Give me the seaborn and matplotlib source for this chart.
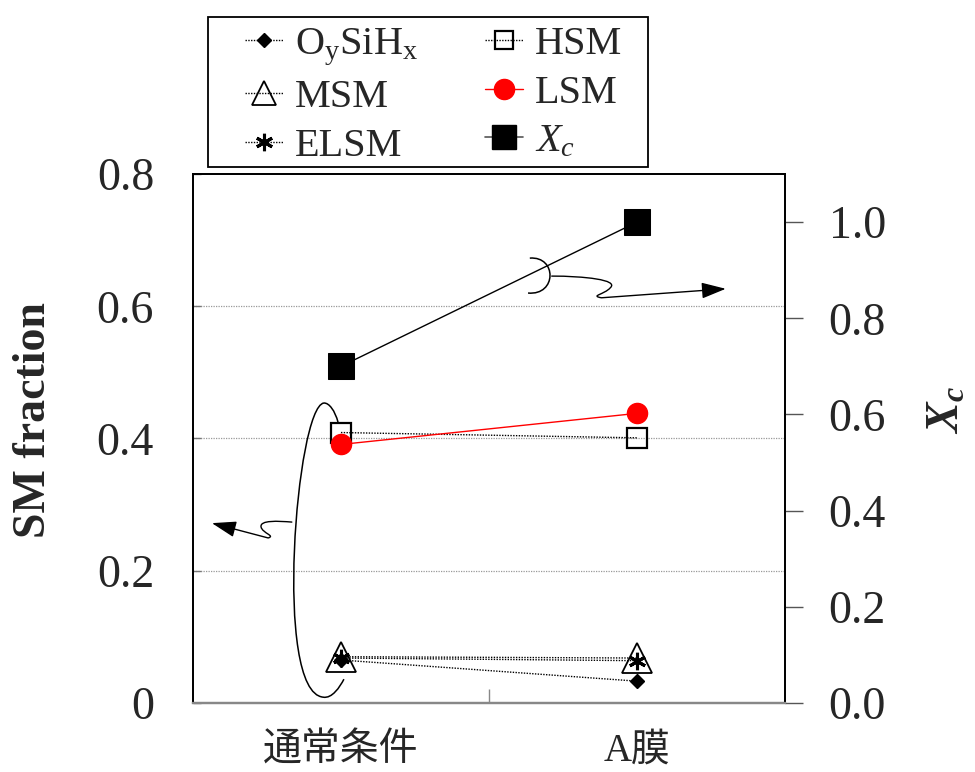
import numpy as np
import pandas as pd
import matplotlib
matplotlib.use("Agg")
import matplotlib.pyplot as plt
from matplotlib.path import Path
from matplotlib.patches import PathPatch, FancyArrowPatch, Rectangle
from matplotlib.lines import Line2D
import seaborn as sns

# ---- data ----
categories = ["通常条件", "A膜"]
oysihx = [0.065, 0.033]
hsm = [0.409, 0.401]
msm = [0.070, 0.068]
lsm = [0.391, 0.438]
elsm = [0.068, 0.064]
xc = [0.70, 1.00]

left_ticks = [0, 0.2, 0.4, 0.6, 0.8]
left_ticklabels = ["0", "0.2", "0.4", "0.6", "0.8"]
right_ticks = [0.0, 0.2, 0.4, 0.6, 0.8, 1.0]
right_ticklabels = ["0.0", "0.2", "0.4", "0.6", "0.8", "1.0"]

sns.set_style("white")
plt.rcParams["font.family"] = ["Liberation Serif", "Noto Sans CJK JP", "DejaVu Sans"]
plt.rcParams["mathtext.fontset"] = "custom"
plt.rcParams["mathtext.rm"] = "Liberation Serif"
plt.rcParams["mathtext.it"] = "Liberation Serif:italic"
plt.rcParams["mathtext.bf"] = "Liberation Serif:bold"
try:
    plt.rcParams["mathtext.bfit"] = "Liberation Serif:italic:bold"
except KeyError:
    pass

fig = plt.figure(figsize=(9.75, 7.72), dpi=100)
ax = fig.add_axes([0.1979, 0.0894, 0.6072, 0.6852])
ax2 = ax.twinx()

x = np.arange(len(categories))
dotted = (0, (1, 1))

lbl_o = "O$_{\\rm y}$SiH$_{\\rm x}$"
lbl_xc = "$X_c$"

series = [
    dict(y=oysihx, label=lbl_o, marker="D", ms=7.6, leg_ms=7.6, mfc="black",
         mec="black", color="black", ls=dotted, mew=1.0),
    dict(y=msm, label="MSM", marker="^", ms=21, leg_ms=17, mfc="none", mec="black",
         color="black", ls=dotted, mew=1.3),
    dict(y=elsm, label="ELSM", marker=(6, 2, 0), ms=12.5, leg_ms=12.5, mfc="black",
         mec="black", color="black", ls=dotted, mew=2.2),
    dict(y=hsm, label="HSM", marker="s", ms=14, leg_ms=13.5, mfc="none", mec="black",
         color="black", ls=dotted, mew=1.6),
    dict(y=lsm, label="LSM", marker="o", ms=14.5, leg_ms=14.5, mfc="red", mec="red",
         color="red", ls="-", mew=1.0),
]

handles = {}
for s in series:
    sns.lineplot(x=x, y=s["y"], ax=ax, color=s["color"], linestyle=s["ls"],
                 linewidth=1.0, marker=s["marker"], markersize=s["ms"],
                 markerfacecolor=s["mfc"], markeredgecolor=s["mec"],
                 markeredgewidth=s["mew"], legend=False)
    handles[s["label"]] = Line2D([], [], color=s["color"], linestyle=s["ls"],
                                 linewidth=1.0, marker=s["marker"],
                                 markersize=s["leg_ms"], markerfacecolor=s["mfc"],
                                 markeredgecolor=s["mec"], markeredgewidth=s["mew"])

sns.lineplot(x=x, y=xc, ax=ax2, color="black", linestyle="-", linewidth=1.0,
             marker="s", markersize=19, markerfacecolor="black",
             markeredgecolor="black", legend=False)
handles[lbl_xc] = Line2D([], [], color="#555555", linestyle="-", linewidth=1.2,
                         marker="s", markersize=17, markerfacecolor="black",
                         markeredgecolor="black")

# ---- left axis ----
ax.set_xlim(-0.5, 1.5)
ax.set_ylim(0, 0.8)
ax.set_yticks(left_ticks)
ax.set_yticklabels(left_ticklabels, fontsize=33)
ax.tick_params(axis="y", direction="in", length=6, width=1, color="#777777", pad=28, left=True)
ax.set_ylabel("SM fraction", fontsize=33, fontweight="bold")
ax.yaxis.set_label_coords(-0.233, 0.535)
for yv in left_ticks[1:-1]:
    ax.axhline(yv, color="#999999", lw=0.9, ls=(0, (1, 1)), zorder=0)

ax.set_xticks(x)
ax.set_xticklabels(categories, fontsize=28)
ax.tick_params(axis="x", length=0, pad=21)
ax.set_xticks([0.5], minor=True)
ax.tick_params(axis="x", which="minor", direction="in", length=10, width=1,
               color="#888888", bottom=True)

# ---- right axis ----
ax2.set_ylim(0, 1.1)
ax2.set_yticks(right_ticks)
ax2.set_yticklabels(right_ticklabels, fontsize=33)
ax2.tick_params(axis="y", direction="out", length=13, width=1, color="#555555", pad=18.5, right=True)
ax2.set_ylabel("$\\mathbfit{X}_{\\mathbfit{c}}$", fontsize=33, rotation=90)
ax2.yaxis.set_label_coords(1.238, 0.554)

for a in (ax, ax2):
    for side in ("left", "top", "right"):
        a.spines[side].set_color("black")
        a.spines[side].set_linewidth(1.3)
    a.spines["bottom"].set_color("#888888")
    a.spines["bottom"].set_linewidth(1.6)

# ---- annotation curves (axes fraction coordinates) ----
M, C, L = Path.MOVETO, Path.CURVE4, Path.LINETO
loop = Path(
    [(0.245, 0.531), (0.240, 0.552), (0.230, 0.568), (0.221, 0.567),
     (0.175, 0.560), (0.135, 0.020), (0.220, 0.011),
     (0.235, 0.008), (0.248, 0.030), (0.255, 0.045)],
    [M, C, C, C, C, C, C, C, C, C])
ax.add_patch(PathPatch(loop, transform=ax.transAxes, fill=False, lw=1.1,
                       color="black", clip_on=False))

arrow_style = "-|>,head_length=1.0,head_width=0.33"
left_arrow = Path(
    [(0.167, 0.342), (0.144, 0.344), (0.113, 0.346), (0.115, 0.333),
     (0.117, 0.321), (0.140, 0.316), (0.127, 0.312), (0.032, 0.340)],
    [M, C, C, C, C, C, C, L])
ax.add_patch(FancyArrowPatch(path=left_arrow, transform=ax.transAxes,
                             arrowstyle=arrow_style, mutation_scale=15,
                             lw=1.0, color="black", clip_on=False))

bracket = Path(
    [(0.569, 0.841), (0.615, 0.845), (0.615, 0.770), (0.566, 0.775)],
    [M, C, C, C])
ax.add_patch(PathPatch(bracket, transform=ax.transAxes, fill=False, lw=1.1,
                       color="black", clip_on=False))

right_arrow = Path(
    [(0.606, 0.807), (0.660, 0.807), (0.720, 0.800), (0.705, 0.785),
     (0.695, 0.772), (0.670, 0.770), (0.690, 0.766), (0.900, 0.783)],
    [M, C, C, C, C, C, C, L])
ax.add_patch(FancyArrowPatch(path=right_arrow, transform=ax.transAxes,
                             arrowstyle=arrow_style, mutation_scale=15,
                             lw=1.0, color="black", clip_on=False))

# ---- legend: entries without frame, box drawn around them ----
order = [lbl_o, "MSM", "ELSM", "HSM", "LSM", lbl_xc]
leg = fig.legend([handles[k] for k in order], order, loc="upper left",
                 bbox_to_anchor=(0.2513, 0.9663), borderaxespad=0, ncol=2,
                 fontsize=29, frameon=False,
                 handlelength=0.95, handletextpad=0.3, columnspacing=1.65,
                 labelspacing=0.28, borderpad=0)
fig.add_artist(Rectangle((0.2133, 0.7837), 0.4513, 0.1943, transform=fig.transFigure,
                         fill=False, edgecolor="black", linewidth=1.3))

fig.savefig("out.png", dpi=100)
